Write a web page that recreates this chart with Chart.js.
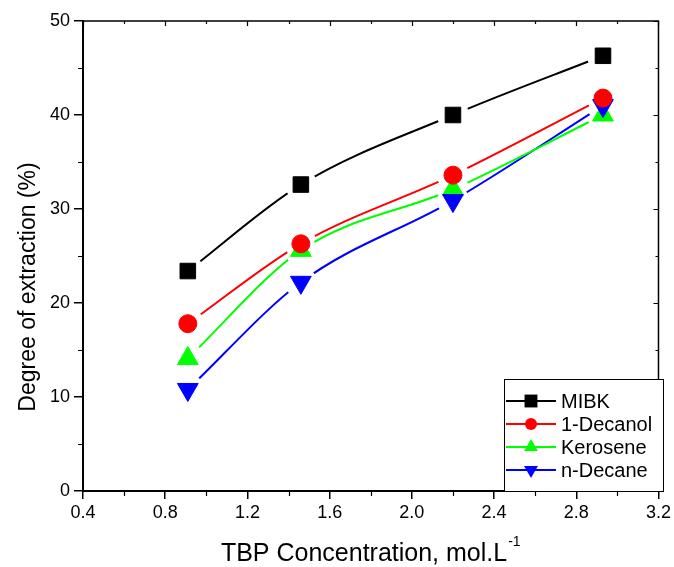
<!DOCTYPE html>
<html>
<head>
<meta charset="utf-8">
<script src="https://cdn.jsdelivr.net/npm/chart.js@4/dist/chart.umd.min.js"></script>
<style>
  html, body { margin: 0; padding: 0; background: #fff; }
  #chart { display: block; }
</style>
</head>
<body>
<canvas id="chart" width="674" height="567"></canvas>
<script>
// ---- DATA ----
const concentrations = [0.91, 1.46, 2.20, 2.93];
const mibk = [23.4, 32.6, 40.0, 46.3];
const decanol = [17.8, 26.3, 33.6, 41.8];
const kerosene = [14.1, 25.6, 32.1, 40.0];
const nDecane = [10.8, 22.2, 30.9, 41.0];

const seriesNames = ['MIBK', '1-Decanol', 'Kerosene', 'n-Decane'];
const xTickValues = [0.4, 0.8, 1.2, 1.6, 2.0, 2.4, 2.8, 3.2];
const yTickValues = [0, 10, 20, 30, 40, 50];

const FONT = 'Arial, "Liberation Sans", sans-serif';

// style per series: colour, marker, marker radius, legend radius, draw order
const styles = [
  { color: '#000000', shape: 'rect', radius: 11, legendRadius: 6.5, rotation: 0, order: 1 },
  { color: '#ff0000', shape: 'circle', radius: 9, legendRadius: 6, rotation: 0, order: 1 },
  { color: '#00ff00', shape: 'triangle', radius: 12, legendRadius: 8, rotation: 0, order: 3 },
  { color: '#0000ff', shape: 'triangle', radius: 12, legendRadius: 8, rotation: 180, order: 2 }
];

function toPoints(values) {
  return values.map((v, i) => ({ x: concentrations[i], y: v }));
}

const seriesValues = [mibk, decanol, kerosene, nDecane];
const datasets = [];

// line datasets (with gaps around markers) + marker datasets
seriesValues.forEach((values, i) => {
  const s = styles[i];
  datasets.push({
    label: seriesNames[i] + ' line',
    data: toPoints(values),
    showLine: true,
    borderColor: s.color,
    borderWidth: 2,
    cubicInterpolationMode: 'monotone',
    pointRadius: 0,
    gapRadius: 16,
    order: 10
  });
  datasets.push({
    label: seriesNames[i],
    data: toPoints(values),
    showLine: false,
    pointStyle: s.shape,
    pointRotation: s.rotation,
    pointRadius: s.radius,
    pointBackgroundColor: s.color,
    pointBorderColor: s.color,
    pointBorderWidth: 1,
    order: s.order
  });
});

// ---- PLUGINS ----
// cut the line near each of its own markers, like Origin does
const gapPlugin = {
  id: 'gapPlugin',
  beforeDatasetDraw(chart, args) {
    const ds = chart.data.datasets[args.index];
    if (!ds.gapRadius) return;
    const ctx = chart.ctx;
    ctx.save();
    ctx.beginPath();
    ctx.rect(0, 0, chart.width, chart.height);
    args.meta.data.forEach(pt => {
      ctx.moveTo(pt.x + ds.gapRadius, pt.y);
      ctx.arc(pt.x, pt.y, ds.gapRadius, 0, Math.PI * 2, true);
    });
    ctx.clip('evenodd');
  },
  afterDatasetDraw(chart, args) {
    const ds = chart.data.datasets[args.index];
    if (!ds.gapRadius) return;
    chart.ctx.restore();
  }
};

// frame on top/right, minor ticks, axis titles
const framePlugin = {
  id: 'framePlugin',
  afterDraw(chart) {
    const ctx = chart.ctx;
    const a = chart.chartArea;
    const xs = chart.scales.x;
    const ys = chart.scales.y;
    ctx.save();
    ctx.strokeStyle = '#000';
    ctx.lineWidth = 1.5;
    ctx.beginPath();
    ctx.moveTo(a.left, a.top);
    ctx.lineTo(a.right, a.top);
    ctx.lineTo(a.right, a.bottom);
    ctx.stroke();

    ctx.lineWidth = 1.2;
    ctx.beginPath();
    // x ticks: minor outward on bottom, all inward on top
    for (let v = 0.4; v <= 3.21; v += 0.2) {
      const px = Math.round(xs.getPixelForValue(v)) + 0.5;
      const major = Math.abs(Math.round(v / 0.4) * 0.4 - v) < 1e-6;
      if (!major) {
        ctx.moveTo(px, a.bottom);
        ctx.lineTo(px, a.bottom + 5);
      }
      ctx.moveTo(px, a.top);
      ctx.lineTo(px, a.top + (major ? 5 : 3));
    }
    // y ticks: minor outward on left, all inward on right
    for (let v = 0; v <= 50; v += 5) {
      const py = Math.round(ys.getPixelForValue(v)) + 0.5;
      const major = v % 10 === 0;
      if (!major) {
        ctx.moveTo(a.left, py);
        ctx.lineTo(a.left - 5, py);
      }
      ctx.moveTo(a.right, py);
      ctx.lineTo(a.right - (major ? 5 : 3), py);
    }
    ctx.stroke();

    // axis titles
    ctx.fillStyle = '#000';
    ctx.textBaseline = 'alphabetic';
    ctx.textAlign = 'left';
    const xt = 'TBP Concentration, mol.L';
    ctx.font = '25px ' + FONT;
    const w = ctx.measureText(xt).width;
    ctx.font = '14px ' + FONT;
    const sw = ctx.measureText('-1').width;
    const x0 = (a.left + a.right) / 2 - (w + sw + 1) / 2;
    ctx.font = '25px ' + FONT;
    ctx.fillText(xt, x0, 561);
    ctx.font = '14px ' + FONT;
    ctx.fillText('-1', x0 + w + 1, 546);

    ctx.save();
    ctx.translate(35, 287);
    ctx.rotate(-Math.PI / 2);
    ctx.font = '23px ' + FONT;
    ctx.textAlign = 'center';
    ctx.fillText('Degree of extraction (%)', 0, 0);
    ctx.restore();
    ctx.restore();
  }
};

function drawMarker(ctx, shape, x, y, r, rotation) {
  ctx.beginPath();
  if (shape === 'rect') {
    const h = r * Math.SQRT1_2;
    ctx.rect(x - h, y - h, 2 * h, 2 * h);
  } else if (shape === 'circle') {
    ctx.arc(x, y, r, 0, Math.PI * 2);
  } else {
    const dir = rotation === 180 ? -1 : 1;
    ctx.moveTo(x, y - dir * r);
    ctx.lineTo(x + r * 0.866, y + dir * r * 0.5);
    ctx.lineTo(x - r * 0.866, y + dir * r * 0.5);
    ctx.closePath();
  }
  ctx.fill();
}

// legend box in the lower right corner
const legendPlugin = {
  id: 'legendBox',
  afterDraw(chart) {
    const ctx = chart.ctx;
    const a = chart.chartArea;
    const left = 504, top = 379, right = 663, bottom = a.bottom;
    const rows = [401, 424, 447, 470];
    ctx.save();
    ctx.fillStyle = '#fff';
    ctx.fillRect(left, top, right - left, bottom - top);
    ctx.strokeStyle = '#000';
    ctx.lineWidth = 1;
    ctx.strokeRect(left + 0.5, top + 0.5, right - left, bottom - top);
    ctx.font = '20px ' + FONT;
    ctx.textBaseline = 'middle';
    ctx.textAlign = 'left';
    seriesNames.forEach((name, i) => {
      const s = styles[i];
      const y = rows[i];
      ctx.strokeStyle = s.color;
      ctx.lineWidth = 2;
      ctx.beginPath();
      ctx.moveTo(506, y);
      ctx.lineTo(556, y);
      ctx.stroke();
      ctx.fillStyle = s.color;
      drawMarker(ctx, s.shape, 531, y, s.legendRadius * (s.shape === 'rect' ? 1.4 : 1), s.rotation);
      ctx.fillStyle = '#000';
      ctx.fillText(name, 561, y + 1);
    });
    ctx.restore();
  }
};

// ---- CHART ----
new Chart(document.getElementById('chart'), {
  type: 'scatter',
  data: { datasets },
  plugins: [gapPlugin, framePlugin, legendPlugin],
  options: {
    responsive: false,
    animation: false,
    layout: { padding: { left: 0, right: 14, top: 21, bottom: 0 } },
    plugins: {
      legend: { display: false },
      tooltip: { enabled: false }
    },
    scales: {
      x: {
        type: 'linear',
        min: 0.4,
        max: 3.2,
        afterBuildTicks: scale => { scale.ticks = xTickValues.map(v => ({ value: v })); },
        afterFit: scale => { scale.height = 76; },
        ticks: {
          color: '#000',
          font: { size: 18, family: FONT },
          padding: 3,
          maxRotation: 0,
          callback: v => Number(v).toFixed(1)
        },
        grid: { drawOnChartArea: false, color: '#000', lineWidth: 1.5, tickLength: 8 },
        border: { color: '#000', width: 2 }
      },
      y: {
        min: 0,
        max: 50,
        afterBuildTicks: scale => { scale.ticks = yTickValues.map(v => ({ value: v })); },
        afterFit: scale => { scale.width = 83; },
        ticks: {
          color: '#000',
          font: { size: 18, family: FONT },
          padding: 4
        },
        grid: { drawOnChartArea: false, color: '#000', lineWidth: 1.5, tickLength: 9 },
        border: { color: '#000', width: 2 }
      }
    }
  }
});
</script>
</body>
</html>
